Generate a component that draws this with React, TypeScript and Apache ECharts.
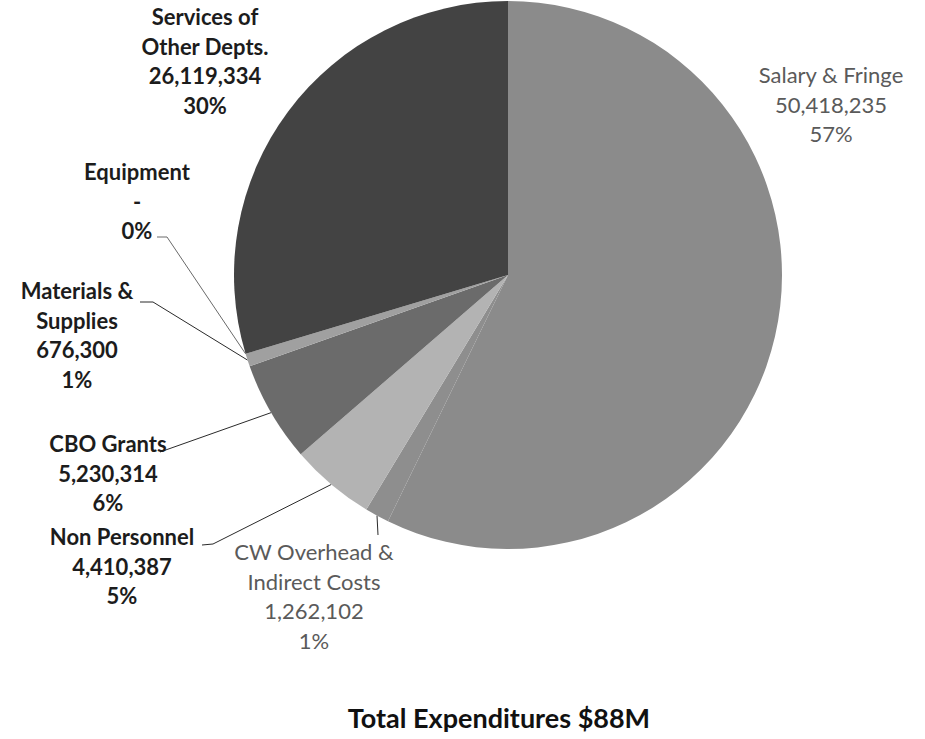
import React, { useEffect, useRef } from "react";
import * as echarts from "echarts";

const categories = [
  "Salary & Fringe",
  "CW Overhead &\nIndirect Costs",
  "Non Personnel",
  "CBO Grants",
  "Materials &\nSupplies",
  "Equipment",
  "Services of\nOther Depts.",
];
const values = [50418235, 1262102, 4410387, 5230314, 676300, 0, 26119334];
const sliceColors = ["#8b8b8b", "#8e8e8e", "#b3b3b3", "#6b6b6b", "#a0a0a0", "#808080", "#434343"];
const title = "Total Expenditures $88M";

// label layout: [x, top]; extra leader line points
const labelPos: Array<[number, number]> = [
  [831, 60],
  [314, 537],
  [122, 522],
  [108, 429],
  [77, 276],
  [137, 157],
  [205, 2],
];
const linePts: Array<number[][] | null> = [
  null,
  [[378, 535]],
  [[213, 544], [202, 545]],
  [[160, 452]],
  [[153, 302], [140, 302]],
  [[167, 237], [157, 237]],
  null,
];
const boldLabel = [false, false, true, true, true, true, true];

export default function App() {
  const ref = useRef<HTMLDivElement>(null);
  useEffect(() => {
    if (!ref.current) return;
    const chart = echarts.init(ref.current, null, { renderer: "svg" });
    const total = values.reduce((a, b) => a + b, 0);
    const fmt = (v: number) => (v === 0 ? "-" : v.toLocaleString("en-US"));
    chart.setOption({
      animation: false,
      title: {
        text: title,
        left: 499,
        top: 702,
        padding: 0,
        textAlign: "center",
        textStyle: { fontFamily: "Lato", fontSize: 27, fontWeight: "bold", color: "#111", lineHeight: 30 },
      },
      series: [
        {
          type: "pie",
          center: [508, 275],
          radius: 274,
          startAngle: 90,
          clockwise: true,
          minShowLabelAngle: 0,
          avoidLabelOverlap: false,
          data: categories.map((name, i) => ({
            name,
            value: values[i],
            itemStyle: { color: sliceColors[i] },
            label: {
              show: true,
              fontWeight: boldLabel[i] ? "bold" : "normal",
              color: boldLabel[i] ? "#1c1c1c" : "#5a5a5a",
            },
            labelLine: {
              show: linePts[i] !== null,
              lineStyle: { color: i === 5 ? "#6a6a6a" : "#2a2a2a", width: 1 },
            },
          })),
          label: {
            position: "outside",
            fontFamily: "Lato",
            fontSize: 22,
            lineHeight: 29.5,
            align: "center",
            formatter: (p: any) =>
              `${p.name}\n${fmt(p.value)}\n${Math.round((p.value / total) * 100)}%`,
          },
          labelLine: { show: true, length: 10, length2: 10, smooth: false },
          labelLayout: (p: any) => {
            const i = p.dataIndex;
            const [x, y] = labelPos[i];
            const res: any = { x, y, align: "center", verticalAlign: "top" };
            const extra = linePts[i];
            if (extra && p.labelLinePoints && p.labelLinePoints.length) {
              res.labelLinePoints = [p.labelLinePoints[0], ...extra];
            }
            return res;
          },
          emphasis: { disabled: true },
        },
      ],
    });
    return () => chart.dispose();
  }, []);
  return (
    <div
      ref={ref}
      style={{ position: "fixed", left: 0, top: 0, width: 925, height: 739, background: "#fff" }}
    />
  );
}
